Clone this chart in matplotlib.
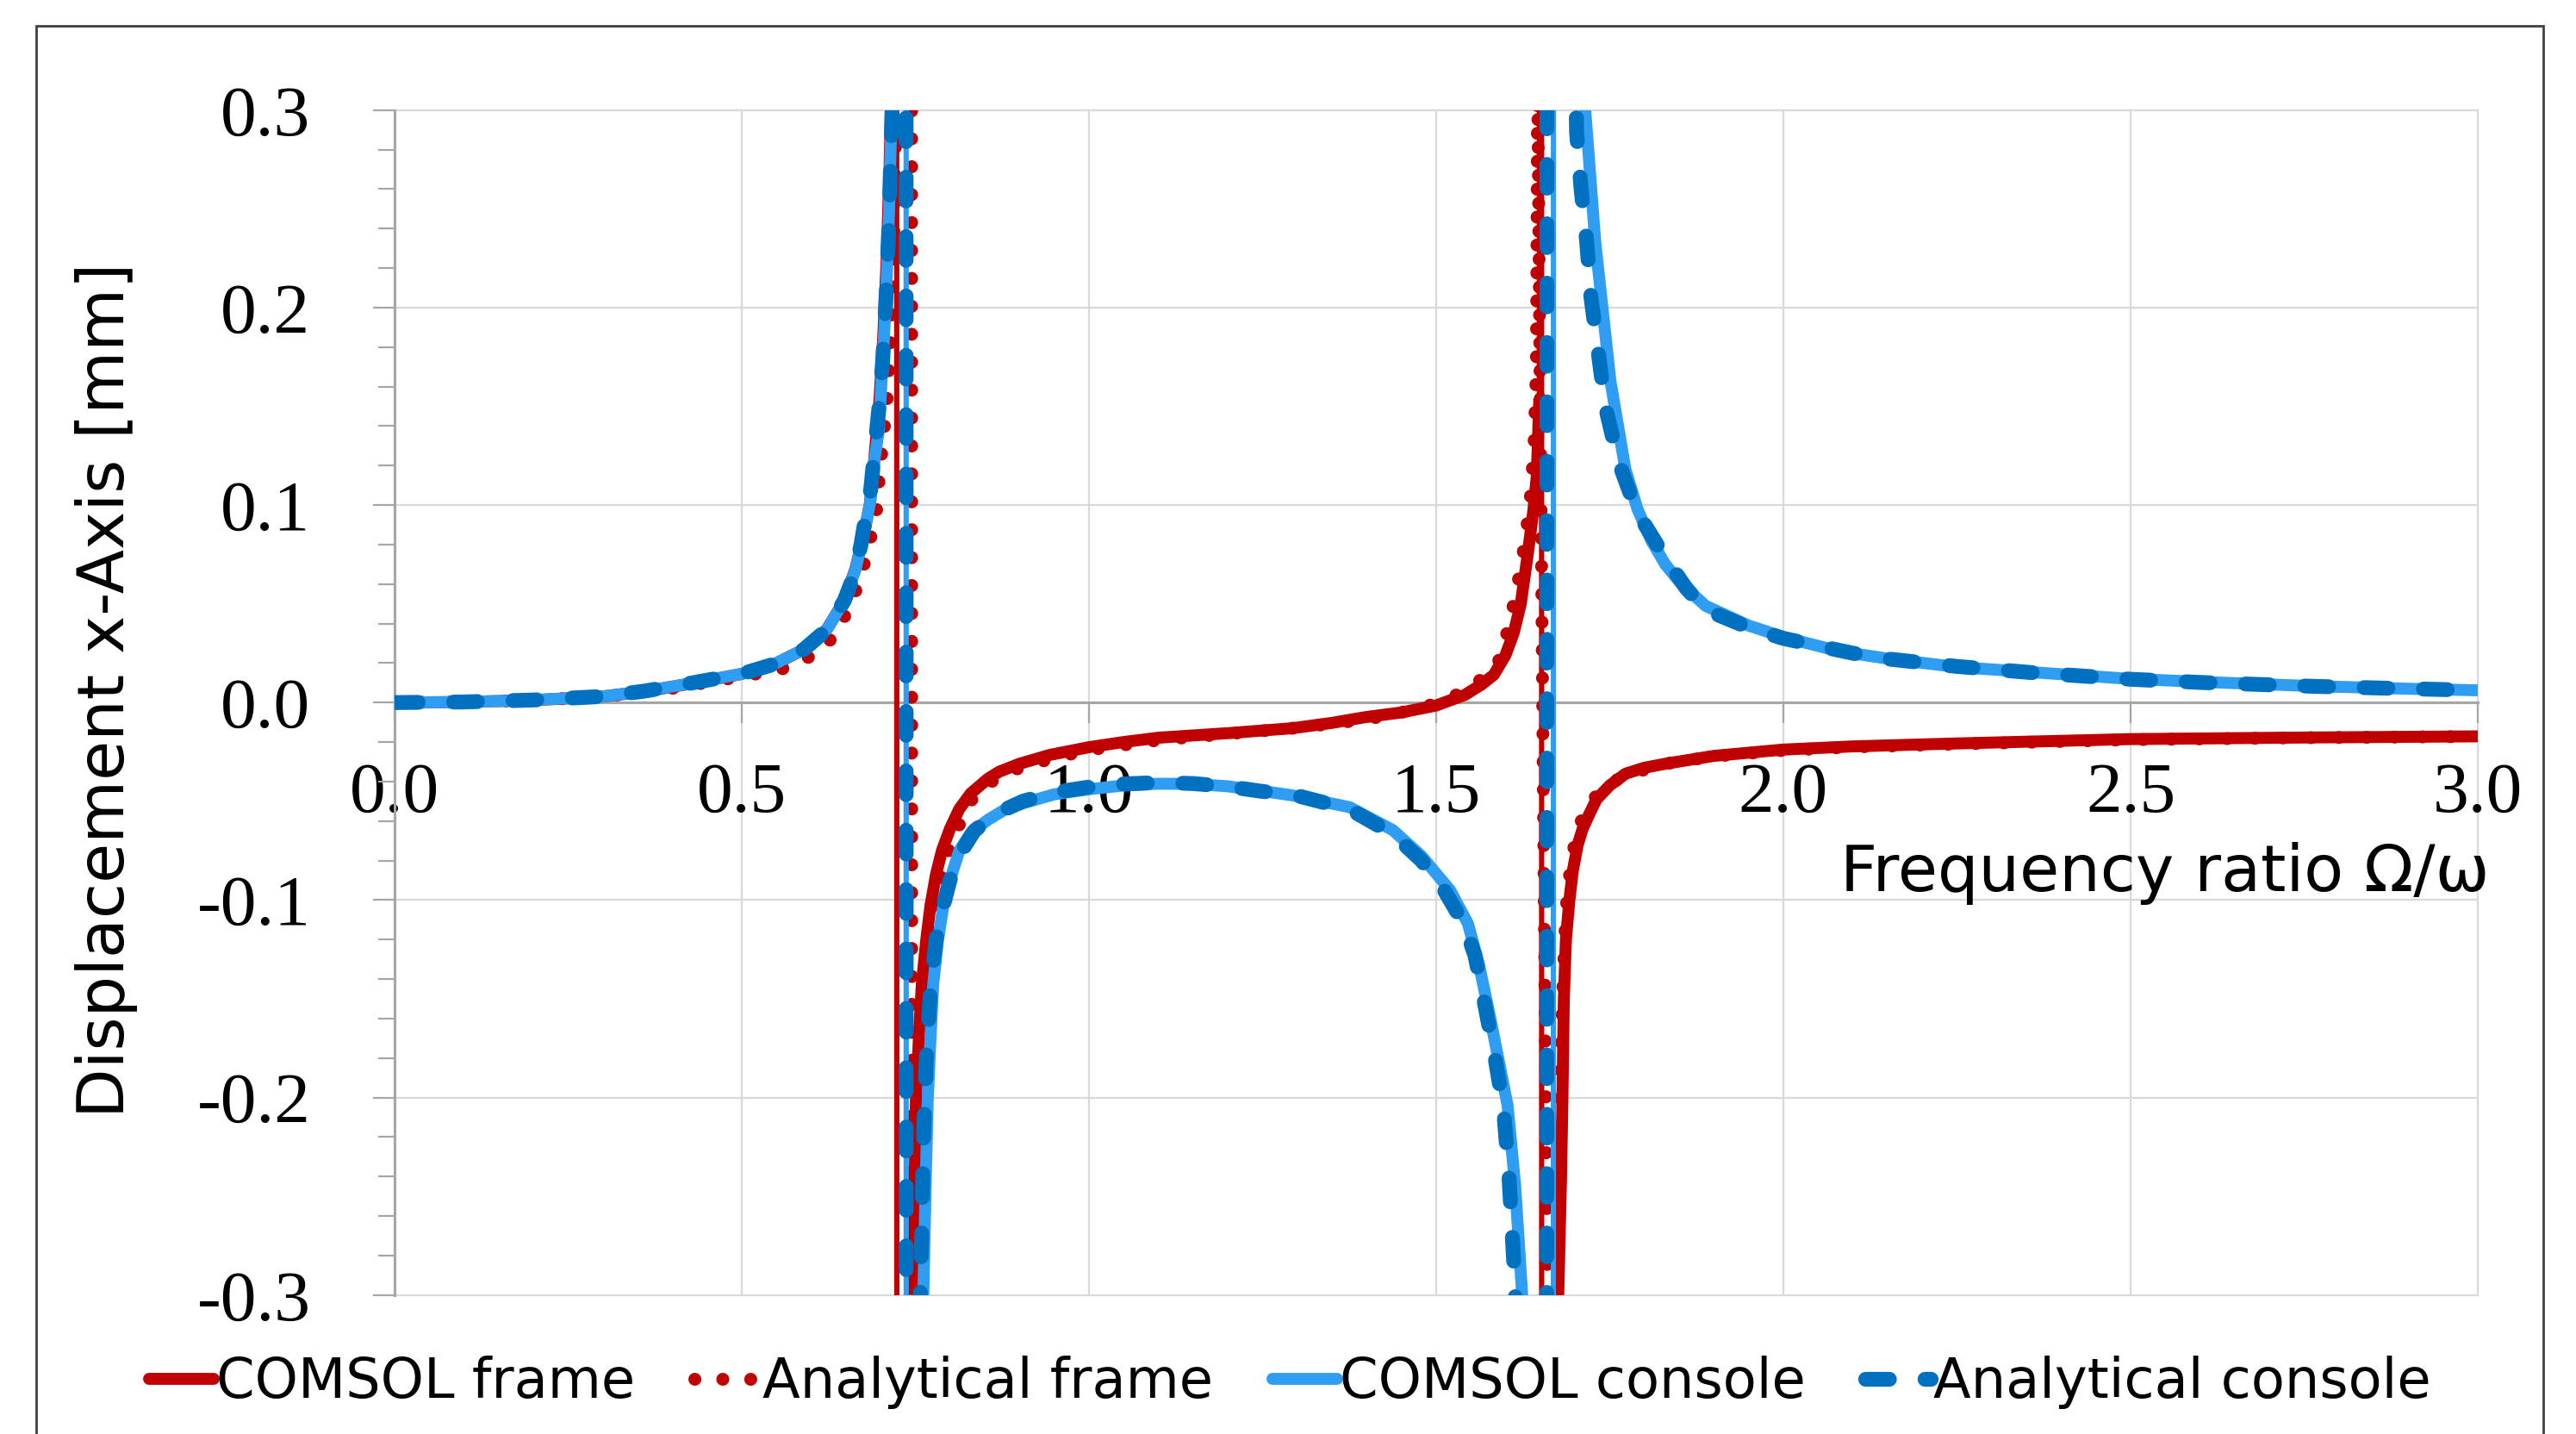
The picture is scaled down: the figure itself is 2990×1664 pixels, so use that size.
import numpy as np
import matplotlib
matplotlib.use("Agg")
import matplotlib.pyplot as plt
from matplotlib.collections import LineCollection
from matplotlib.lines import Line2D
from matplotlib.patches import Rectangle
from matplotlib.ticker import MultipleLocator

# ---------------- data ----------------
x_ticks = [0.0, 0.5, 1.0, 1.5, 2.0, 2.5, 3.0]
x_tick_labels = ["0.0", "0.5", "1.0", "1.5", "2.0", "2.5", "3.0"]
y_ticks = [-0.3, -0.2, -0.1, 0.0, 0.1, 0.2, 0.3]
y_tick_labels = ["-0.3", "-0.2", "-0.1", "0.0", "0.1", "0.2", "0.3"]

series_names = ["COMSOL frame", "Analytical frame", "COMSOL console", "Analytical console"]

# COMSOL frame
cf_x = [0.0, 0.1, 0.2, 0.3, 0.36, 0.42, 0.5, 0.55, 0.59, 0.623, 0.648, 0.664, 0.677, 0.685,
        0.691, 0.698, 0.704, 0.709, 0.713, 0.717, 0.7225, 0.7245, 0.747, 0.751, 0.756, 0.7596,
        0.766, 0.772, 0.780, 0.7885, 0.800, 0.8133, 0.830, 0.855, 0.871, 0.90, 0.944, 1.0,
        1.05, 1.1, 1.2, 1.293, 1.35, 1.396, 1.45, 1.5, 1.541, 1.565, 1.583, 1.600, 1.612,
        1.622, 1.632, 1.640, 1.645, 1.6487, 1.6515, 1.6525, 1.676, 1.680, 1.682, 1.684, 1.687,
        1.692, 1.697, 1.704, 1.711, 1.72, 1.731, 1.75, 1.773, 1.80, 1.83, 1.90, 2.0, 2.1,
        2.25, 2.5, 2.75, 3.0]
cf_y = [0.0, 0.0003, 0.0012, 0.0031, 0.0055, 0.0092, 0.0145, 0.0198, 0.027, 0.0372, 0.0517,
        0.0678, 0.0867, 0.101, 0.123, 0.15, 0.185, 0.225, 0.27, 0.33, 3.0, -3.0, -0.30,
        -0.2017, -0.165, -0.1424, -0.120, -0.1028, -0.087, -0.075, -0.064, -0.054, -0.046,
        -0.0385, -0.035, -0.031, -0.0265, -0.0226, -0.0200, -0.0178, -0.0155, -0.013, -0.0103,
        -0.0075, -0.0050, -0.0015, 0.0038, 0.009, 0.014, 0.024, 0.0355, 0.050, 0.075, 0.097,
        0.1144, 0.154, 3.0, -3.0, -0.30, -0.24, -0.20, -0.15, -0.12, -0.100, -0.085, -0.072,
        -0.064, -0.057, -0.049, -0.042, -0.036, -0.033, -0.031, -0.027, -0.0238, -0.0222,
        -0.0207, -0.0185, -0.0177, -0.0171]

# Analytical frame
af_x = [0.0, 0.1, 0.2, 0.3, 0.4, 0.5, 0.557, 0.6, 0.627, 0.648, 0.664, 0.675, 0.6851, 0.6937,
        0.6976, 0.7038, 0.709, 0.713, 0.716, 0.719, 0.722, 0.726, 0.744, 0.746, 0.757, 0.761,
        0.766, 0.773, 0.780, 0.79, 0.80, 0.8133, 0.834, 0.86, 0.9, 0.95, 1.0, 1.1, 1.2, 1.3,
        1.4, 1.45, 1.5, 1.54, 1.57, 1.59, 1.6023, 1.615, 1.625, 1.635, 1.641, 1.6445, 1.6455,
        1.6462, 1.6608, 1.672, 1.677, 1.680, 1.683, 1.687, 1.693, 1.702, 1.715, 1.735, 1.77,
        1.83, 1.9, 2.0, 2.1, 2.25, 2.5, 2.75, 3.0]
af_y = [0.0, 0.0003, 0.0012, 0.003, 0.0072, 0.0132, 0.0168, 0.0235, 0.0314, 0.0433, 0.0561,
        0.068, 0.0823, 0.0948, 0.111, 0.134, 0.15, 0.175, 0.195, 0.235, 0.29, 0.38, 3.0, -3.0,
        -0.30, -0.20, -0.145, -0.120, -0.103, -0.085, -0.073, -0.062, -0.0475, -0.040, -0.033,
        -0.028, -0.024, -0.019, -0.0158, -0.0128, -0.0085, -0.005, -0.0005, 0.0055, 0.013,
        0.021, 0.0355, 0.055, 0.075, 0.10, 0.13, 0.17, 0.25, 0.32, -0.32, -0.30, -0.24, -0.18,
        -0.14, -0.105, -0.085, -0.066, -0.055, -0.045, -0.037, -0.031, -0.0272, -0.0242,
        -0.0225, -0.021, -0.0188, -0.0178, -0.0172]

# COMSOL console
cc_x = [0.0, 0.1, 0.2, 0.3, 0.3626, 0.4246, 0.502, 0.5487, 0.590, 0.6231, 0.648, 0.6644,
        0.6769, 0.6851, 0.6913, 0.6976, 0.703, 0.708, 0.712, 0.716, 0.719, 0.7365, 0.7375,
        0.7617, 0.765, 0.768, 0.772, 0.776, 0.783, 0.7906, 0.80, 0.8133, 0.83, 0.8547, 0.88,
        0.905, 0.95, 1.0, 1.05, 1.1, 1.15, 1.2, 1.25, 1.293, 1.3757, 1.4378, 1.479, 1.5204,
        1.546, 1.562, 1.577, 1.590, 1.603, 1.614, 1.624, 1.630, 1.6685, 1.6695, 1.712, 1.7148,
        1.7293, 1.751, 1.7727, 1.79, 1.81, 1.83, 1.851, 1.888, 1.95, 2.003, 2.08, 2.153, 2.25,
        2.357, 2.5, 2.6, 2.766, 2.9, 3.0]
cc_y = [0.0, 0.0003, 0.0013, 0.0031, 0.0059, 0.0096, 0.0147, 0.0198, 0.027, 0.0372, 0.0517,
        0.0678, 0.0867, 0.1012, 0.123, 0.1376, 0.172, 0.205, 0.245, 0.30, 0.35, 3.0, -3.0,
        -0.30, -0.245, -0.2017, -0.17, -0.1424, -0.12, -0.1028, -0.090, -0.0752, -0.066,
        -0.0594, -0.054, -0.0510, -0.0465, -0.0439, -0.0420, -0.0411, -0.0412, -0.0424,
        -0.0448, -0.0470, -0.053, -0.0646, -0.0777, -0.0951, -0.112, -0.133, -0.158, -0.181,
        -0.204, -0.245, -0.300, -0.36, -3.0, 3.0, 0.34, 0.30, 0.233, 0.163, 0.118, 0.098,
        0.082, 0.070, 0.061, 0.049, 0.039, 0.0329, 0.026, 0.0221, 0.018, 0.0154, 0.012,
        0.0105, 0.0083, 0.007, 0.0062]

# Analytical console
ac_x = [0.0, 0.1, 0.2, 0.3, 0.36, 0.42, 0.5, 0.55, 0.59, 0.623, 0.648, 0.656, 0.664, 0.672,
        0.679, 0.686, 0.6934, 0.698, 0.703, 0.708, 0.712, 0.716, 0.719, 0.736, 0.738, 0.7575,
        0.762, 0.766, 0.772, 0.78, 0.7906, 0.80, 0.8133, 0.835, 0.8547, 0.88, 0.905, 0.95,
        1.0, 1.05, 1.1, 1.15, 1.2, 1.25, 1.293, 1.3757, 1.4378, 1.479, 1.51, 1.54, 1.556,
        1.5713, 1.585, 1.597, 1.605, 1.6115, 1.614, 1.62, 1.6585, 1.6605, 1.700, 1.7024,
        1.7087, 1.717, 1.723, 1.7334, 1.7437, 1.7623, 1.789, 1.8305, 1.86, 1.888, 1.95, 2.0,
        2.1, 2.153, 2.25, 2.357, 2.5, 2.6, 2.766, 2.9, 3.0]
ac_y = [0.0, 0.0003, 0.0013, 0.0031, 0.0058, 0.0094, 0.0145, 0.0198, 0.027, 0.037, 0.0517,
        0.059, 0.0678, 0.080, 0.0948, 0.108, 0.134, 0.150, 0.172, 0.205, 0.24, 0.29, 0.34,
        3.0, -3.0, -0.30, -0.22, -0.18, -0.145, -0.12, -0.1028, -0.090, -0.0772, -0.065,
        -0.0594, -0.054, -0.050, -0.0455, -0.0428, -0.0412, -0.0405, -0.0410, -0.0425,
        -0.045, -0.0465, -0.054, -0.0665, -0.080, -0.094, -0.112, -0.128, -0.155, -0.18,
        -0.205, -0.24, -0.281, -0.30, -0.36, -3.0, 3.0, 0.33, 0.2885, 0.2607, 0.233, 0.2054,
        0.1777, 0.150, 0.1224, 0.0967, 0.073, 0.058, 0.047, 0.038, 0.0325, 0.025, 0.022,
        0.0183, 0.0152, 0.0118, 0.0102, 0.0082, 0.0070, 0.0062]

for a, b in [(cf_x, cf_y), (af_x, af_y), (cc_x, cc_y), (ac_x, ac_y)]:
    assert len(a) == len(b), (len(a), len(b))

# ---------------- styling ----------------
RED = "#C00000"
LIGHT_BLUE = "#2E9DF2"
DARK_BLUE = "#0070C0"
GRID = "#D9D9D9"
AXIS_GRAY = "#A6A6A6"
SANS = ["DejaVu Sans"]
SERIF = ["Liberation Serif", "DejaVu Serif"]

DOTS = (0, (0.01, 2.15))
DASHES = (0, (1.6, 2.4))

W, H, DPI = 2990, 1664, 200
fig = plt.figure(figsize=(W / DPI, H / DPI), dpi=DPI)
ax = fig.add_axes([457.7 / W, 1 - 1502.7 / H, (2876 - 457.7) / W, (1502.7 - 127.8) / H])

ax.set_xlim(0, 3)
ax.set_ylim(-0.3, 0.3)
ax.set_axisbelow(True)

for s in ["top", "right"]:
    ax.spines[s].set_visible(False)
ax.spines["bottom"].set_position(("data", 0))
ax.spines["bottom"].set_color(AXIS_GRAY)
ax.spines["bottom"].set_linewidth(1.1)
ax.spines["left"].set_color(AXIS_GRAY)
ax.spines["left"].set_linewidth(1.1)

ax.set_xticks(x_ticks)
ax.set_xticklabels(x_tick_labels, fontfamily=SERIF, fontsize=30)
ax.set_yticks(y_ticks)
ax.set_yticklabels(y_tick_labels, fontfamily=SERIF, fontsize=30)
ax.yaxis.set_minor_locator(MultipleLocator(0.02))

ax.grid(True, which="major", color=GRID, linewidth=0.8)
for gl in ax.get_xgridlines() + ax.get_ygridlines():
    gl.set_clip_on(False)

ax.tick_params(axis="x", which="major", direction="out", length=8.5, width=0.8,
               color=AXIS_GRAY, pad=16.5)
ax.tick_params(axis="y", which="major", direction="out", length=9, width=0.8,
               color=AXIS_GRAY, pad=26)
ax.tick_params(axis="y", which="minor", direction="out", length=7, width=0.8,
               color=AXIS_GRAY)


def draw_solid(x, y, color, lw, thin_lw, z):
    x = np.asarray(x, float)
    y = np.asarray(y, float)
    far = np.abs(y) > 1.0
    ym = np.where(far, np.nan, y)
    ax.plot(x, ym, color=color, lw=lw, solid_capstyle="butt",
            solid_joinstyle="round", zorder=z)
    segs = [[(x[i], y[i]), (x[i + 1], y[i + 1])] for i in range(len(x) - 1)
            if far[i] or far[i + 1]]
    ax.add_collection(LineCollection(segs, colors=color, linewidths=thin_lw,
                                     zorder=z, capstyle="butt"))


draw_solid(cf_x, cf_y, RED, 5.0, 2.2, 3)
ax.plot(af_x, af_y, color=RED, lw=5.4, linestyle=DOTS, dash_capstyle="round",
        dash_joinstyle="round", zorder=4)
draw_solid(cc_x, cc_y, LIGHT_BLUE, 5.0, 2.2, 5)
ax.plot(ac_x, ac_y, color=DARK_BLUE, lw=6.2, linestyle=DASHES, dash_capstyle="round",
        dash_joinstyle="round", zorder=6)

# axis titles
fig.text(2889 / W, 1 - 1013 / H, "Frequency ratio \u03a9/\u03c9", ha="right", va="center",
         fontsize=27, fontfamily=SANS)
fig.text(124 / W, 1 - 801 / H, "Displacement x-Axis [mm]", ha="center", va="center",
         rotation=90, fontsize=27, fontfamily=SANS)

# legend
handles = [
    Line2D([], [], color=RED, lw=5.0, solid_capstyle="round"),
    Line2D([], [], color=RED, lw=5.4, linestyle=DOTS, dash_capstyle="round"),
    Line2D([], [], color=LIGHT_BLUE, lw=5.0, solid_capstyle="round"),
    Line2D([], [], color=DARK_BLUE, lw=6.2, linestyle=DASHES, dash_capstyle="round"),
]
fig.legend(handles, series_names, loc="center", bbox_to_anchor=(1497 / W, 1 - 1604 / H),
           ncol=4, frameon=False, handlelength=1.18, handletextpad=0.05,
           columnspacing=1.08, borderaxespad=0, borderpad=0,
           prop={"family": SANS, "size": 23})

# outer chart border
fig.patches.append(Rectangle((42 / W, -0.05), (2952 - 42) / W, 1 - 30.5 / H + 0.05,
                             transform=fig.transFigure, fill=False,
                             edgecolor="#404040", linewidth=1.0))

fig.savefig("out.png", dpi=DPI)
